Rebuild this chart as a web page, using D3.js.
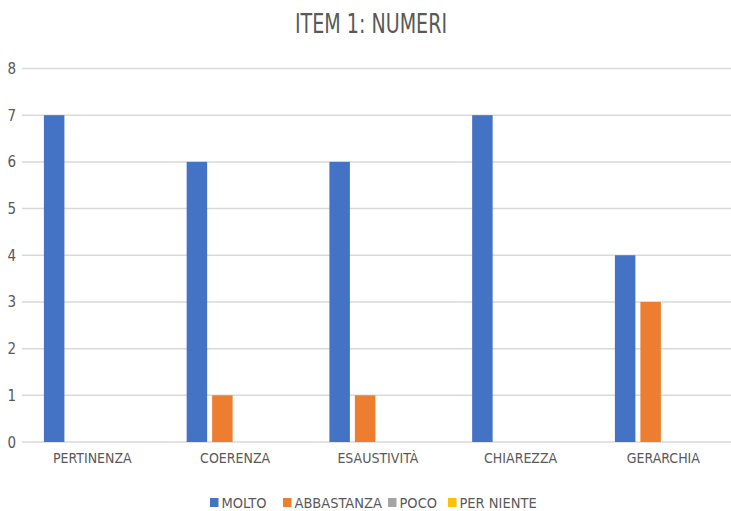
<!DOCTYPE html>
<html lang="it">
<head>
    <meta charset="UTF-8">
    <title>ITEM 1: NUMERI</title>
    <script src="https://d3js.org/d3.v7.min.js"></script>
    <style>
        body { margin: 0; background: #fff; }
        text { font-family: "Liberation Sans Narrow", "DejaVu Sans Condensed", "Roboto", sans-serif; fill: #595959; }
    </style>
</head>
<body>
    <svg id="chart"></svg>
    <script>
        // dati del grafico
        const categories = ['PERTINENZA', 'COERENZA', 'ESAUSTIVITÀ', 'CHIAREZZA', 'GERARCHIA'];
        const seriesNames = ['MOLTO', 'ABBASTANZA', 'POCO', 'PER NIENTE'];
        const molto = [7, 6, 6, 7, 4];
        const abbastanza = [0, 1, 1, 0, 3];
        const poco = [0, 0, 0, 0, 0];
        const perNiente = [0, 0, 0, 0, 0];
        const yTicks = [0, 1, 2, 3, 4, 5, 6, 7, 8];
        const colors = ['#4472C4', '#ED7D31', '#A5A5A5', '#FFC000'];

        const seriesValues = [molto, abbastanza, poco, perNiente];

        const width = 731, height = 511;
        const svg = d3.select('#chart')
            .attr('width', width)
            .attr('height', height);

        const x0 = d3.scaleBand()
            .domain(categories)
            .range([21, 21 + 5 * 142.75])
            .padding(0);

        const x1 = d3.scaleBand()
            .domain(seriesNames)
            .range([22.9, 142.75 - 22.9])
            .paddingInner(0.196)
            .paddingOuter(0);

        const y = d3.scaleLinear()
            .domain([0, 8])
            .range([442, 68.5]);

        // titolo
        svg.append('text')
            .attr('x', 371)
            .attr('y', 33)
            .attr('text-anchor', 'middle')
            .attr('textLength', 152)
            .attr('lengthAdjust', 'spacingAndGlyphs')
            .style('font-size', '26px')
            .text('ITEM 1: NUMERI');

        // griglia
        svg.append('g')
            .selectAll('line')
            .data(yTicks)
            .join('line')
            .attr('x1', 22)
            .attr('x2', width)
            .attr('y1', d => y(d))
            .attr('y2', d => y(d))
            .attr('stroke', '#d9d9d9')
            .attr('stroke-width', 1.5);

        // etichette asse y
        svg.append('g')
            .selectAll('text')
            .data(yTicks)
            .join('text')
            .attr('x', 16)
            .attr('y', d => y(d) + 5.5)
            .attr('text-anchor', 'end')
            .style('font-size', '15px')
            .text(d => d);

        // barre
        const groups = svg.append('g')
            .selectAll('g')
            .data(categories)
            .join('g')
            .attr('transform', d => `translate(${x0(d)},0)`);

        groups.selectAll('rect')
            .data((c, i) => seriesNames.map((s, j) => ({ s, v: seriesValues[j][i], color: colors[j] })))
            .join('rect')
            .attr('x', d => x1(d.s))
            .attr('width', x1.bandwidth())
            .attr('y', d => y(d.v))
            .attr('height', d => y(0) - y(d.v))
            .attr('fill', d => d.color);

        // etichette categorie
        svg.append('g')
            .selectAll('text')
            .data(categories)
            .join('text')
            .attr('x', d => x0(d) + x0.bandwidth() / 2)
            .attr('y', 463)
            .attr('text-anchor', 'middle')
            .style('font-size', '14px')
            .text(d => d);

        // legenda
        const legendX = [210, 283, 388, 448];
        const legend = svg.append('g')
            .selectAll('g')
            .data(seriesNames)
            .join('g')
            .attr('transform', (d, i) => `translate(${legendX[i]},498)`);

        legend.append('rect')
            .attr('width', 8.5)
            .attr('height', 9)
            .attr('fill', (d, i) => colors[i]);

        legend.append('text')
            .attr('x', 11.5)
            .attr('y', 10)
            .style('font-size', '14.5px')
            .text(d => d);
    </script>
</body>
</html>
